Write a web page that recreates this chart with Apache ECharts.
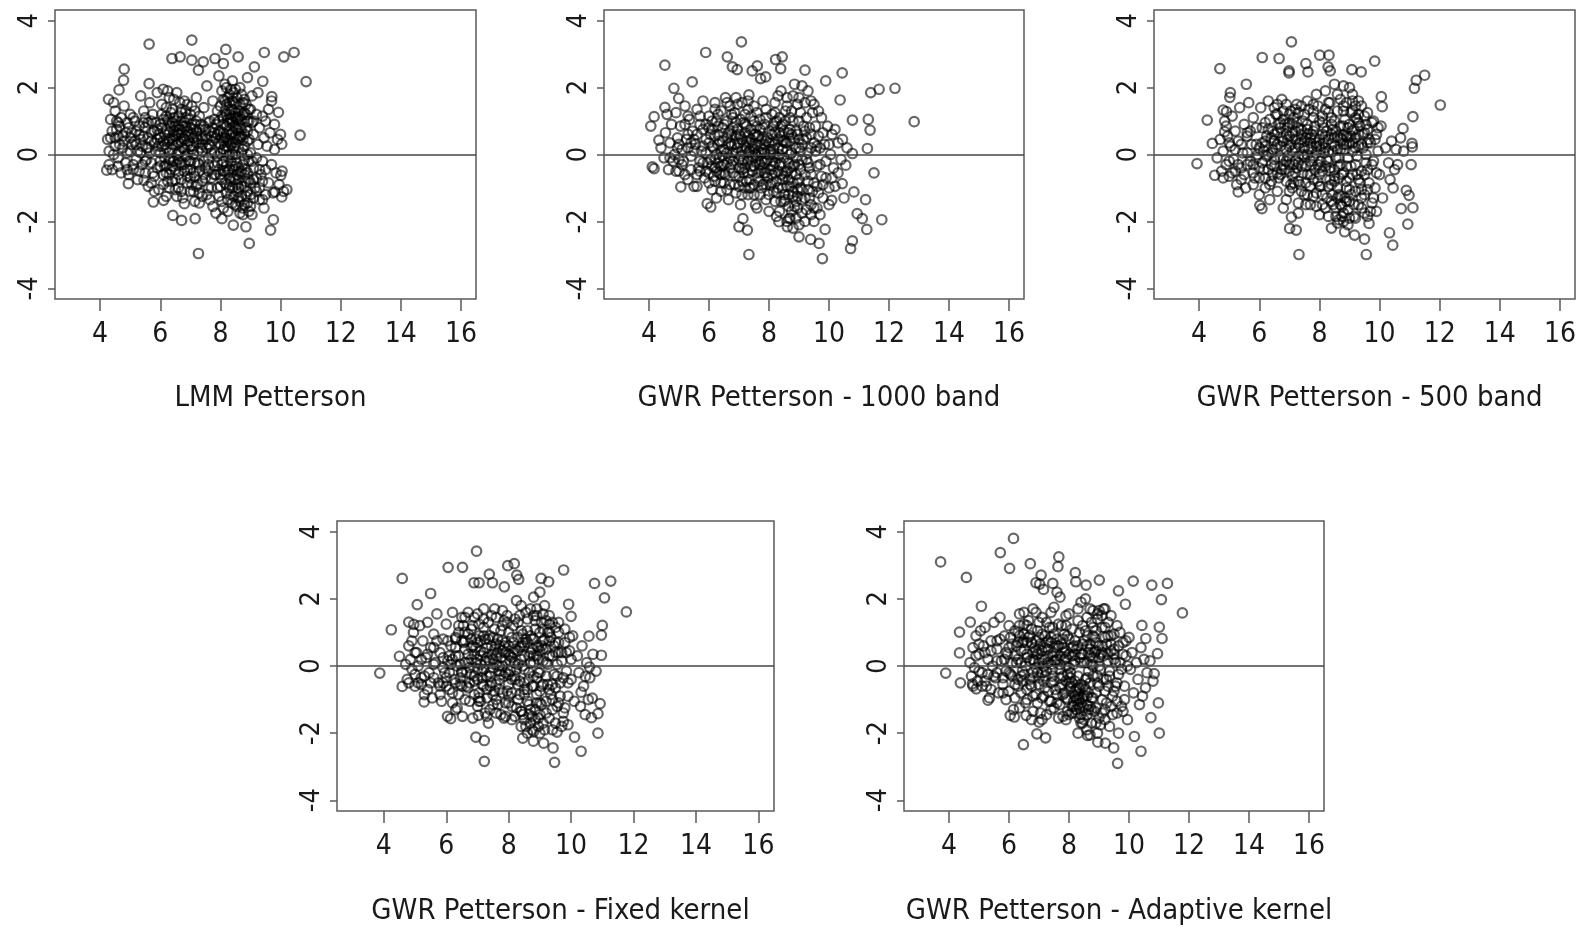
<!DOCTYPE html>
<html>
<head>
<meta charset="utf-8">
<title>Residual plots - Petterson</title>
<script src="https://cdn.jsdelivr.net/npm/echarts@6/dist/echarts.min.js"></script>
<style>
html, body { margin: 0; padding: 0; background: #fff; }
#chart { width: 1584px; height: 933px; }
</style>
</head>
<body>
<div id="chart"></div>
<script>
// titles and ticks
var panelTitles = ['LMM Petterson', 'GWR Petterson - 1000 band', 'GWR Petterson - 500 band',
	'GWR Petterson - Fixed kernel', 'GWR Petterson - Adaptive kernel'];
var xTicks = [4, 6, 8, 10, 12, 14, 16];
var yTicks = [-4, -2, 0, 2, 4];

// LMM Petterson [fitted, residual]
var lmmPoints = [
	[5.63,3.30],[7.05,3.42],[8.18,3.14],[8.59,2.92],[9.46,3.05],[10.11,2.92],[10.45,3.05],[10.85,2.18],[10.65,0.58],[10.04,0.31],
	[9.93,1.26],[9.71,1.73],[9.13,2.62],[9.41,2.19],[4.80,2.55],[4.78,2.22],[4.63,1.93],[4.28,1.65],[5.63,2.12],[6.39,2.87],
	[6.66,2.92],[7.05,2.82],[7.43,2.77],[7.82,2.87],[8.10,2.72],[7.27,2.52],[4.22,-0.47],[4.94,-0.87],[5.46,-0.77],[5.77,-1.42],
	[6.42,-1.82],[6.71,-1.97],[7.16,-1.92],[7.27,-2.96],[8.96,-2.66],[8.85,-2.16],[8.43,-2.11],[9.67,-2.26],[9.76,-1.95],[10.21,-1.05],
	[10.04,-1.27],[10.01,-0.62],[9.82,-1.12],[6.80,-1.47],[6.11,-1.37],[8.05,-1.92],
	[4.25,0.45],[4.3,0.1],[4.35,1.05],[4.3,-0.3],[4.4,0.7],[4.45,1.55],[4.5,0.25],[4.4,-0.45],[4.55,1.0],[4.6,-0.1],
	[4.6,0.55],[4.5,1.3],[4.65,0.85],[4.7,-0.55],[4.75,0.2],[4.8,1.45],[4.8,0.4],[4.85,-0.25],[4.9,0.95],[4.95,-0.6],
	[5.0,1.2],[5.0,0.1],[5.05,0.65],[5.1,-0.45],[5.15,1.0],[5.2,0.3],[5.2,-0.15],[5.25,-0.75],[5.3,0.85],[5.35,1.75],
	[5.35,0.05],[5.4,-0.3],[5.45,0.55],[5.45,1.3],[5.5,-0.55],[5.55,0.2],[5.6,0.95],[5.6,-0.95],[5.65,1.55],[5.7,0.4],
	[5.7,-0.25],[5.75,1.2],[5.8,0.7],[5.8,-0.65],[5.85,0.1],[5.9,1.85],[5.9,0.45],[5.95,-1.05],[6.0,0.9],[6.0,-0.35],
	[6.05,1.5],[6.05,0.25],[6.1,-0.6],[6.1,1.95],[6.15,0.6],[6.15,-0.1],[6.2,1.15],[6.2,-1.25],[6.25,0.4],[6.25,-0.8],
	[6.3,1.7],[6.3,0.05],[6.35,0.85],[6.35,-0.45],[6.4,0.5],[6.4,1.35],[6.45,-0.2],[6.45,0.7],[6.5,-1.05],[6.5,1.0],
	[6.55,0.3],[6.55,1.85],[6.6,-0.6],[6.6,0.6],[6.65,0.1],[6.7,1.25],[6.7,-0.3],[6.75,0.85],[6.75,-1.3],[6.8,0.45],
	[6.8,1.6],[6.85,-0.05],[6.9,0.7],[6.9,-0.85],[6.95,1.05],[7.0,0.25],[7.0,-0.45],[7.05,1.45],[7.05,0.6],[7.1,-1.1],
	[7.1,0.0],[7.15,0.9],[7.15,-0.65],[7.2,1.7],[7.2,0.35],[7.25,-0.25],[7.3,1.15],[7.3,-1.45],[7.35,0.55],[7.4,-0.8],
	[7.4,0.1],[7.45,1.4],[7.5,-0.4],[7.5,0.75],[7.55,-1.2],[7.55,2.05],[7.6,0.3],[7.6,-0.1],[7.65,1.0],[7.7,-0.7],
	[7.7,0.55],[7.75,-1.55],[7.75,1.6],[7.8,0.05],[7.8,-0.35],[7.85,0.9],[7.9,-1.0],[7.9,1.3],[7.95,0.35],[7.95,2.35],
	[8.0,-0.6],[8.0,0.7],[8.05,-1.4],[8.05,1.9],[8.1,0.15],[8.1,1.1],[8.1,-0.2],[8.15,2.1],[8.15,0.5],[8.2,-0.9],
	[8.2,1.5],[8.2,0.85],[8.25,-1.7],[8.25,0.25],[8.3,1.8],[8.3,-0.45],[8.3,1.2],[8.35,0.6],[8.35,-1.2],[8.4,2.2],
	[8.4,0.0],[8.4,0.95],[8.45,-0.7],[8.45,1.55],[8.5,0.35],[8.5,-1.5],[8.5,1.95],[8.55,0.75],[8.55,-0.25],[8.6,1.3],
	[8.6,-1.0],[8.65,0.5],[8.65,2.0],[8.7,-0.5],[8.7,1.05],[8.75,-1.8],[8.75,0.15],[8.8,1.65],[8.8,-0.15],[8.85,0.8],
	[8.85,-1.25],[8.9,2.3],[8.9,0.4],[8.95,-0.75],[8.95,1.35],[9.0,-1.55],[9.0,0.05],[9.05,0.95],[9.05,1.75],[9.1,-0.4],
	[9.1,0.6],[9.15,-1.0],[9.2,1.2],[9.2,-0.1],[9.25,1.85],[9.25,0.3],[9.3,-1.35],[9.3,0.8],[9.35,-0.6],[9.4,1.15],
	[9.4,-0.2],[9.45,0.5],[9.45,-1.6],[9.5,1.0],[9.5,-0.45],[9.55,0.25],[9.6,1.35],[9.6,-0.85],[9.65,0.65],[9.7,-0.3],
	[9.7,1.6],[9.75,-1.15],[9.8,0.15],[9.8,0.9],[9.85,-0.55],[9.9,0.45],[9.95,-0.9],[10.0,0.6],[10.05,-0.5],[10.1,-1.1],
	[6.2,0.75],[6.3,0.45],[6.4,0.95],[6.5,0.55],[6.6,0.85],[6.7,0.4],[6.8,0.95],[6.9,0.3],[7.0,0.8],[7.1,0.5],
	[6.25,1.9],[6.45,1.65],[6.65,1.55],[6.85,1.3],[7.3,0.75],[7.4,0.45],[7.6,0.95],[7.8,0.65],[7.9,-0.05],[8.0,0.3],
	[8.1,0.65],[8.2,0.1],[8.3,0.4],[8.4,1.35],[8.5,1.1],[8.6,0.9],[8.7,0.55],[8.8,1.25],[8.25,1.7],[8.45,1.85],
	[8.15,-0.5],[8.35,-0.8],[8.55,-1.1],[8.65,-1.4],[8.85,-0.45],[7.25,-0.9],[7.45,-0.6],[6.95,-0.2],[6.35,-0.15],[5.95,0.25],
	[5.8,0.35],[5.85,0.95],[5.9,-0.4],[5.95,0.6],[6.0,0.05],[6.05,1.2],[6.1,0.4],[6.15,-0.35],[6.2,0.2],[6.25,1.05],
	[6.3,-0.6],[6.3,0.65],[6.35,1.25],[6.4,0.15],[6.45,0.45],[6.5,-0.45],[6.5,0.85],[6.55,0.0],[6.6,1.15],[6.6,0.35],
	[6.65,-0.25],[6.7,0.65],[6.7,1.0],[6.75,0.2],[6.8,-0.5],[6.85,0.55],[6.85,1.1],[6.9,0.0],[6.95,0.4],[7.0,1.2],
	[7.0,-0.7],[7.05,0.15],[7.1,0.75],[7.15,-0.25],[7.2,0.55],[7.2,1.0],[7.25,0.1],[7.3,-0.5],[7.35,0.9],[7.4,0.3],
	[7.45,-0.2],[7.5,0.55],[7.55,0.2],[7.6,-0.5],[7.65,0.7],[7.7,0.05],[7.75,0.4],[7.8,1.05],[7.85,-0.6],[7.9,0.6],
	[7.95,1.0],[8.0,0.05],[8.0,1.45],[8.05,0.5],[8.05,-0.3],[8.1,1.65],[8.1,0.9],[8.15,0.25],[8.15,1.3],[8.2,-0.35],
	[8.2,0.6],[8.2,2.0],[8.25,1.05],[8.25,-0.05],[8.3,0.75],[8.3,1.55],[8.3,0.0],[8.35,1.95],[8.35,0.3],[8.35,1.05],
	[8.4,-0.35],[8.4,0.65],[8.4,1.6],[8.45,0.2],[8.45,1.15],[8.45,0.5],[8.5,1.5],[8.5,0.0],[8.5,0.8],[8.55,-0.6],
	[8.55,1.7],[8.55,0.45],[8.6,0.2],[8.6,1.1],[8.6,-0.4],[8.65,0.8],[8.65,1.5],[8.7,0.05],[8.7,1.8],[8.75,0.45],
	[8.75,1.2],[8.8,-0.6],[8.8,0.6],[8.85,1.5],[8.9,0.0],[8.9,1.0],[8.95,0.45],[9.0,1.35],[9.05,-0.2],[9.1,1.0],
	[8.3,-1.0],[8.4,-1.45],[8.5,-0.75],[8.6,-1.3],[8.7,-0.95],[8.8,-1.5],[8.9,-1.1],[9.0,-0.85],[9.1,-1.3],[9.2,-0.7],
	[9.3,-1.0],[9.4,-1.35],[8.95,-1.7],[8.75,-1.6],[8.25,-1.35],[7.95,-1.25],[7.6,-1.0],[7.3,-1.15],[7.0,-1.1],[6.6,-1.0],
	[4.35,0.5],[4.45,0.0],[4.55,0.75],[4.65,0.3],[4.7,1.1],[4.85,0.65],[4.9,0.05],[5.0,0.5],[5.1,1.1],[5.15,0.4],
	[5.25,0.1],[5.3,0.6],[5.4,0.25],[5.5,0.8],[5.55,-0.15],[5.6,0.5],[5.65,0.05],[5.7,1.0],[5.75,-0.55],[5.5,1.1],
	[6.05,0.8],[6.15,0.3],[6.2,1.4],[6.3,0.95],[6.4,0.3],[6.45,1.1],[6.55,0.65],[6.6,0.05],[6.65,0.75],[6.7,1.35],
	[6.75,0.5],[6.8,0.15],[6.85,0.85],[6.9,1.5],[6.95,0.6],[7.05,0.9],[7.1,0.25],[7.15,1.3],[7.2,0.7],[7.25,0.45],
	[7.35,0.2],[7.45,0.85],[7.55,0.45],[7.65,0.25],[7.75,0.8],[7.85,0.5],[7.95,0.7],[8.05,1.15],[8.1,0.4],[8.15,1.6],
	[8.2,1.2],[8.25,0.45],[8.3,0.95],[8.35,1.35],[8.4,0.35],[8.45,0.85],[8.5,1.25],[8.55,1.05],[8.6,0.55],[8.65,1.15],
	[8.7,0.75],[8.75,1.55],[8.8,0.25],[8.85,1.2],[8.9,0.7],[8.95,1.0],[8.25,-0.5],[8.35,-0.2],[8.45,-0.45],[8.55,-0.9],
	[8.65,-0.55],[8.75,-0.3],[8.85,-0.8],[8.95,-0.2],[8.15,-0.85],[8.05,-0.75],[7.95,-0.45],[8.45,-1.25],[8.65,-1.75],[8.9,-1.45],
	[5.9,0.75],[6.0,0.5],[6.1,1.05],[6.2,-0.3],[6.3,-0.15],[6.4,-0.8],[6.55,-0.3],[6.7,-0.75],[6.9,-0.45],[7.05,-0.9],
	[4.5,0.5],[4.6,0.95],[4.75,0.55],[4.95,0.8],[5.05,0.3],[5.2,0.7],[5.35,0.45],[5.45,0.95],[5.6,0.2],[5.7,0.65],
	[6.0,-0.2],[6.1,-0.9],[6.2,-0.55],[6.3,-1.0],[6.4,-0.35],[6.5,-0.75],[6.6,-0.15],[6.7,-1.1],[6.8,-0.3],[6.9,-0.65],
	[7.0,-0.2],[7.1,-0.55],[7.2,-0.95],[7.3,-0.3],[7.4,-1.25],[7.5,-0.7],[7.6,-0.3],[7.7,-1.0],[7.8,-0.6],[7.9,-0.25],
	[8.0,-0.95],[8.1,-0.5],[8.2,-1.15],[8.3,-0.7],[8.4,-1.0],[8.5,-0.35],[8.6,-0.75],[8.7,-1.25],[8.8,-0.95],[8.9,-0.55],
	[9.0,-1.2],[9.1,-0.75],[9.2,-1.1],[9.3,-0.45],[9.4,-0.8],[9.5,-1.2],[7.15,-1.4],[7.65,-1.35],[8.1,-1.6],[8.55,-1.55],
	[5.1,-0.3],[5.3,-0.5],[5.5,-0.2],[5.7,-0.85],[4.6,-0.35],[4.9,-0.45],[5.8,-1.1],[6.55,-1.25],[7.85,-1.75],[9.05,-1.8]
];

// GWR Petterson - 1000 band
var band1000Points = [
	[5.89,3.05],[7.08,3.37],[6.61,2.92],[6.78,2.62],[6.94,2.54],[7.61,2.65],[7.44,2.50],[8.22,2.84],[8.44,2.92],[8.39,2.57],
	[7.89,2.32],[7.72,2.27],[9.20,2.52],[9.89,2.20],[10.44,2.44],[10.37,1.63],[10.78,1.03],[11.31,1.05],[11.37,0.73],[11.39,1.85],
	[11.67,1.95],[12.20,1.98],[12.84,0.98],[11.28,0.18],[11.50,-0.55],[10.78,0.03],[10.56,-0.32],[10.44,-0.87],[10.83,-1.12],[11.22,-1.35],
	[10.94,-1.77],[11.11,-1.92],[11.26,-2.24],[11.76,-1.95],[10.78,-2.58],[10.72,-2.81],[9.78,-3.11],[9.67,-2.66],[9.39,-2.54],[9.00,-2.46],
	[9.87,-2.24],[7.33,-2.99],[7.28,-2.26],[7.00,-2.16],[7.13,-1.92],[5.94,-1.47],[6.06,-1.57],[5.06,-0.97],[4.17,-0.42],[4.11,-0.37],
	[4.06,0.85],[4.17,1.13],[4.33,0.43],[4.53,2.67],[4.83,1.98],[5.44,2.17],[4.99,1.68],[4.53,1.41],[7.33,1.78],[8.67,-1.92],
	[8.61,-2.16],[8.33,-2.01],[10.09,-1.37],
	[4.4,0.2],[4.5,-0.1],[4.55,0.65],[4.6,1.2],[4.65,-0.45],[4.7,0.35],[4.75,0.9],[4.8,-0.2],[4.85,0.0],[4.9,1.25],
	[4.95,0.5],[5.0,-0.5],[5.05,0.85],[5.1,0.15],[5.15,-0.2],[5.2,1.45],[5.25,0.45],[5.3,-0.75],[5.35,1.05],[5.4,-0.05],
	[5.45,0.7],[5.5,-0.95],[5.55,0.3],[5.6,1.35],[5.65,-0.4],[5.7,0.9],[5.75,0.1],[5.8,1.6],[5.85,-0.7],[5.9,0.45],
	[5.95,-0.25],[6.0,1.15],[6.05,0.6],[6.1,-1.05],[6.15,0.2],[6.2,1.55],[6.25,-0.5],[6.3,0.85],[6.35,-0.1],[6.4,1.3],
	[6.45,0.4],[6.5,-0.85],[6.55,1.7],[6.6,0.05],[6.65,-1.35],[6.7,0.7],[6.75,-0.3],[6.8,1.1],[6.85,0.3],[6.9,-0.65],
	[6.95,1.5],[7.0,-0.15],[7.05,0.55],[7.1,-1.2],[7.15,0.95],[7.2,-0.4],[7.25,0.2],[7.3,1.35],[7.35,-0.75],[7.4,0.45],
	[7.45,-0.05],[7.5,1.0],[7.55,-1.5],[7.6,0.3],[7.65,-0.55],[7.7,0.75],[7.75,-0.2],[7.8,1.6],[7.85,0.05],[7.9,-0.9],
	[7.95,0.5],[8.0,-1.7],[8.05,0.15],[8.1,1.2],[8.15,-0.35],[8.2,0.65],[8.25,-1.15],[8.3,1.75],[8.35,0.0],[8.4,-0.6],
	[8.45,0.9],[8.5,-1.4],[8.55,0.35],[8.6,1.45],[8.65,-0.25],[8.7,-1.9],[8.75,0.6],[8.8,-0.85],[8.85,2.1],[8.9,0.2],
	[8.95,-1.25],[9.0,1.0],[9.05,-0.45],[9.1,-1.75],[9.15,0.45],[9.2,1.55],[9.25,-0.15],[9.3,-1.05],[9.35,0.8],[9.4,-0.6],
	[9.45,1.25],[9.5,-1.6],[9.55,0.1],[9.6,-0.95],[9.65,0.55],[9.7,-0.3],[9.75,1.1],[9.8,-1.3],[9.85,0.3],[9.9,-0.7],
	[9.95,0.85],[10.0,-1.5],[10.05,0.0],[10.1,0.6],[10.15,-0.4],[10.2,-0.95],[10.3,0.35],[10.4,-0.15],[10.5,-1.3],[10.6,0.2],
	[6.6,0.5],[6.8,0.8],[7.0,0.35],[7.1,0.1],[7.2,0.65],[7.3,-0.2],[7.4,-0.35],[7.5,0.15],[7.6,-0.05],[7.7,0.25],
	[7.8,-0.4],[7.9,0.4],[8.0,0.0],[8.1,-0.2],[8.2,0.3],[8.3,-0.5],[8.4,0.55],[8.5,-0.1],[8.6,0.1],[8.7,0.4],
	[8.8,-0.35],[8.9,-0.6],[9.0,0.2],[8.35,1.1],[8.55,1.0],[8.75,1.3],[8.95,1.5],[8.45,-1.0],[8.65,-1.2],[8.85,-1.55],
	[9.05,-1.0],[6.3,0.3],[6.5,-0.3],[6.2,-0.15],[5.9,0.05],[6.0,-0.55],[6.7,1.45],[7.1,1.55],[7.6,1.25],[7.4,-1.0],
	[8.9,-1.9],[9.2,-2.0],[8.6,-2.0],[9.4,-1.8],[9.7,-1.8],[9.3,1.9],[9.1,2.05],[8.4,1.9],[8.8,1.75],[9.5,1.5],
	[5.2,0.9],[5.4,0.35],[5.6,-0.6],[5.8,0.25],[5.0,0.3],[4.9,-0.5],[5.3,1.15],[5.7,1.15],[6.1,0.75],[6.4,-0.6],
	[6.9,0.55],[7.25,0.85],[7.55,0.6],[7.85,0.9],[8.15,0.85],[8.25,-0.8],[8.55,-0.55],[8.95,0.6],[9.25,0.5],[9.6,0.25],
	[10.0,0.3],[10.2,0.75],[10.3,-0.55],[10.45,0.45],[9.8,0.65],[9.9,-0.2],[10.1,-0.7],[7.0,-0.95],[7.7,-1.2],[7.95,-0.7],
	[5.6,0.6],[5.7,-0.2],[5.8,0.75],[5.9,-0.5],[6.0,0.35],[6.05,-0.15],[6.1,1.0],[6.15,-0.65],[6.2,0.55],[6.25,0.0],
	[6.3,1.2],[6.35,0.4],[6.4,-0.35],[6.45,0.8],[6.5,0.15],[6.55,-0.6],[6.6,1.0],[6.65,0.3],[6.7,-0.1],[6.75,0.6],
	[6.8,-0.55],[6.85,1.25],[6.9,0.05],[6.95,0.75],[7.0,-0.4],[7.05,1.05],[7.1,0.45],[7.15,-0.15],[7.2,0.25],[7.25,-0.8],
	[7.3,0.55],[7.35,0.1],[7.4,1.15],[7.45,-0.5],[7.5,0.6],[7.55,-0.2],[7.6,0.85],[7.65,0.1],[7.7,-0.8],[7.75,0.45],
	[7.8,0.15],[7.85,-0.55],[7.9,1.1],[7.95,-0.15],[8.0,0.7],[8.05,-0.9],[8.1,0.35],[8.15,0.0],[8.2,-0.55],[8.25,1.0],
	[8.3,0.2],[8.35,-0.3],[8.4,0.85],[8.45,-0.75],[8.5,0.4],[8.55,1.3],[8.6,-0.5],[8.65,0.65],[8.7,-0.95],[8.75,0.05],
	[8.8,1.0],[8.85,-0.3],[8.9,0.7],[8.95,-0.85],[9.0,0.45],[9.05,1.25],[9.1,-0.15],[9.15,0.85],[9.2,-0.6],[9.25,1.1],
	[9.3,0.05],[9.35,-0.4],[9.4,0.6],[9.45,-1.1],[9.5,0.35],[9.55,0.85],[9.6,-0.35],[9.65,1.3],[9.7,0.2],[9.75,-0.65],
	[8.2,-1.4],[8.35,-1.7],[8.5,-1.2],[8.65,-1.55],[8.8,-1.25],[8.95,-1.6],[9.1,-1.35],[9.25,-1.65],[9.0,-2.1],[8.8,-2.2],
	[7.3,-1.2],[7.5,-0.9],[7.9,-1.35],[7.1,-0.8],[6.7,-0.9],[6.4,-1.1],[6.9,1.7],[6.6,1.55],[6.2,1.35],[7.3,1.6],
	[7.5,1.45],[7.9,1.35],[8.2,1.55],[8.6,1.7],[9.0,1.7],[9.4,1.6],[5.5,0.1],[5.3,0.6],[5.1,-0.3],[4.95,0.2],
	[6.45,-0.05],[6.75,0.25],[7.05,-0.05],[7.35,0.35],[7.65,0.55],[7.85,0.3],[8.1,0.6],[8.3,-0.1],[8.45,0.15],[8.7,0.75],
	[6.0,0.8],[6.1,0.25],[6.2,-0.4],[6.3,0.6],[6.4,0.1],[6.5,0.9],[6.6,-0.25],[6.7,0.35],[6.8,0.05],[6.9,0.95],
	[7.0,0.6],[7.1,-0.45],[7.2,0.9],[7.3,0.05],[7.4,0.75],[7.5,-0.35],[7.6,0.55],[7.7,-0.5],[7.8,0.8],[7.9,-0.2],
	[8.0,0.35],[8.1,-0.6],[8.2,0.95],[8.3,0.45],[8.4,-0.25],[8.5,0.7],[8.6,0.35],[8.7,0.0],[8.8,0.5],[8.9,-0.1],
	[9.0,-0.3],[9.1,0.3],[9.2,0.7],[9.3,-0.25],[9.4,0.2],[6.65,0.65],[6.95,0.2],[7.25,0.4],[7.55,0.0],[7.85,-0.25],
	[8.15,0.15],[8.45,0.4],[8.75,-0.55],[9.05,0.1],[7.15,-0.55],[7.45,0.25],[7.75,0.05],[8.05,-0.45],[8.35,0.65],[8.65,-0.75],
	[6.35,-0.55],[6.85,-0.9],[7.35,-1.0],[7.75,-1.0],[8.15,-1.1],[8.55,-1.35],[8.95,-1.05],[9.35,-1.3],[9.65,-1.15],[10.0,-1.0],
	[5.3,0.2],[5.5,0.45],[5.7,-0.5],[5.9,0.9],[6.25,1.0],[6.75,1.2],[7.2,1.2],[7.7,1.05],[8.2,1.25],[8.7,1.1],
	[6.0,-0.85],[6.1,-0.35],[6.2,-0.8],[6.3,-0.25],[6.4,-0.85],[6.5,-0.55],[6.6,-1.05],[6.7,-0.4],[6.8,-0.2],[6.9,-1.15],
	[7.0,-0.65],[7.1,-0.25],[7.2,-1.0],[7.3,-0.55],[7.4,-0.15],[7.5,-1.2],[7.6,-0.7],[7.7,-0.3],[7.8,-0.9],[7.9,-0.55],
	[8.0,-1.2],[8.1,-0.85],[8.2,-0.25],[8.3,-1.0],[8.4,-1.4],[8.5,-0.65],[8.6,-0.95],[8.7,-0.4],[8.8,-1.1],[8.9,-1.4],
	[9.0,-0.75],[9.1,-1.05],[9.2,-1.3],[9.3,-0.8],[9.4,-1.5],[9.5,-0.85],[9.6,-1.6],[9.8,-0.9],[7.6,-1.6],[8.25,-1.85],
	[5.2,-0.6],[5.4,-0.45],[5.6,-0.95],[5.8,-0.25],[4.7,-0.1],[5.0,-0.15],[6.25,-1.3],[7.05,-1.5],[8.75,-1.7],[9.5,-2.0]
];

// GWR Petterson - 500 band
var band500Points = [
	[3.93,-0.27],[4.52,-0.62],[4.27,1.03],[4.44,0.33],[4.69,2.57],[5.04,1.85],[5.57,2.10],[6.10,2.90],[6.66,2.87],[6.99,2.50],
	[6.99,2.44],[7.07,3.37],[7.55,2.72],[7.62,2.47],[8.01,2.97],[8.32,2.97],[8.29,2.62],[8.36,2.50],[9.08,2.54],[9.39,2.47],
	[9.84,2.79],[10.06,1.73],[10.09,1.43],[11.11,1.13],[11.16,1.98],[11.22,2.22],[11.50,2.37],[12.02,1.48],[11.08,0.33],[11.09,0.23],
	[11.05,-0.30],[10.78,0.78],[10.89,-1.07],[10.98,-1.22],[11.11,-1.59],[10.72,-1.62],[10.94,-2.08],[10.33,-2.34],[10.44,-2.71],[9.56,-2.99],
	[9.50,-2.53],[9.17,-2.41],[8.84,-2.31],[9.65,-2.06],[7.32,-2.99],[7.23,-2.26],[7.01,-2.21],[7.07,-1.87],[6.09,-1.62],[6.02,-1.52],
	[5.30,-1.12],[5.02,1.71],[4.80,1.33],[4.91,1.28],[4.85,0.68],
	[4.6,-0.1],[4.7,0.45],[4.75,-0.5],[4.8,0.1],[4.85,1.0],[4.9,-0.3],[4.95,0.55],[5.0,-0.65],[5.05,0.25],[5.1,1.15],
	[5.15,-0.15],[5.2,0.7],[5.25,-0.9],[5.3,0.4],[5.35,1.4],[5.4,-0.4],[5.45,0.05],[5.5,0.9],[5.55,-1.0],[5.6,0.55],
	[5.65,1.55],[5.7,-0.2],[5.75,0.3],[5.8,1.1],[5.85,-0.7],[5.9,0.8],[5.95,0.0],[6.0,-1.2],[6.05,1.4],[6.1,0.35],
	[6.15,-0.45],[6.2,0.95],[6.25,-0.05],[6.3,1.6],[6.35,-0.9],[6.4,0.5],[6.45,0.15],[6.5,-0.35],[6.55,1.2],[6.6,0.65],
	[6.65,-0.7],[6.7,0.25],[6.75,1.65],[6.8,-0.15],[6.85,0.9],[6.9,-1.35],[6.95,0.45],[7.0,-0.5],[7.05,1.3],[7.1,0.1],
	[7.15,-0.85],[7.2,0.7],[7.25,1.5],[7.3,-0.25],[7.35,0.35],[7.4,-1.1],[7.45,1.0],[7.5,-0.05],[7.55,-1.5],[7.6,0.6],
	[7.65,1.35],[7.7,-0.6],[7.75,0.2],[7.8,-1.25],[7.85,0.85],[7.9,1.8],[7.95,-0.3],[8.0,0.45],[8.05,-0.95],[8.1,1.15],
	[8.15,0.05],[8.2,-1.6],[8.25,0.7],[8.3,1.55],[8.35,-0.4],[8.4,0.3],[8.45,-1.2],[8.5,1.0],[8.55,-0.1],[8.6,1.8],
	[8.65,-0.7],[8.7,0.5],[8.75,-1.85],[8.8,1.3],[8.85,0.15],[8.9,-1.0],[8.95,0.8],[9.0,2.0],[9.05,-0.35],[9.1,0.35],
	[9.15,-1.5],[9.2,1.1],[9.25,-0.05],[9.3,0.6],[9.35,-0.85],[9.4,1.45],[9.45,0.2],[9.5,-1.2],[9.55,0.9],[9.6,-0.45],
	[9.65,0.45],[9.7,-1.7],[9.75,0.95],[9.8,-0.2],[9.85,-1.0],[9.9,0.6],[9.95,0.1],[10.0,-0.6],[10.05,0.85],[10.1,-1.3],
	[10.2,0.2],[10.3,-0.25],[10.35,-0.75],[10.45,-1.0],[10.55,0.15],[10.6,-0.3],[10.7,0.5],[10.8,0.1],[10.5,-0.45],[10.4,0.4],
	[6.5,0.4],[6.7,0.8],[6.9,0.15],[7.0,0.55],[7.1,0.9],[7.2,-0.2],[7.3,0.3],[7.4,0.75],[7.5,0.4],[7.6,0.0],
	[7.7,0.5],[7.8,-0.1],[7.9,0.25],[8.0,-0.4],[8.1,0.6],[8.2,0.2],[8.3,-0.2],[8.4,0.9],[8.5,0.5],[8.6,0.15],
	[8.7,-0.3],[8.8,0.6],[8.9,0.3],[9.0,0.9],[9.1,1.3],[9.2,0.5],[9.3,1.6],[8.55,-1.6],[8.65,-1.95],[8.7,-1.5],
	[8.8,-1.75],[8.6,-1.3],[8.4,-0.9],[8.9,-1.4],[9.0,-1.9],[9.2,-1.9],[9.4,-1.6],[9.6,-1.85],[8.3,-1.85],[8.0,-1.8],
	[6.8,1.3],[7.3,1.25],[7.8,1.5],[8.2,1.9],[8.5,2.1],[8.8,2.05],[9.1,1.8],[6.2,0.4],[6.0,0.2],[5.8,-0.3],
	[5.9,0.3],[6.0,-0.4],[6.1,0.8],[6.15,0.1],[6.2,-0.7],[6.25,0.55],[6.3,0.0],[6.35,1.05],[6.4,-0.3],[6.45,0.7],
	[6.5,1.4],[6.55,0.2],[6.6,-0.55],[6.65,0.9],[6.7,-0.1],[6.75,0.5],[6.8,1.05],[6.85,-0.45],[6.9,0.6],[6.95,-0.05],
	[7.0,0.95],[7.05,0.3],[7.1,-0.65],[7.15,1.1],[7.2,0.2],[7.25,-0.4],[7.3,0.8],[7.35,-0.9],[7.4,0.45],[7.45,0.0],
	[7.5,1.2],[7.55,-0.35],[7.6,0.75],[7.65,0.15],[7.7,-0.95],[7.75,0.6],[7.8,1.1],[7.85,-0.45],[7.9,0.35],[7.95,-0.8],
	[8.0,1.0],[8.05,0.15],[8.1,-0.5],[8.15,0.8],[8.2,1.35],[8.25,-0.15],[8.3,0.45],[8.35,-0.75],[8.4,1.1],[8.45,0.1],
	[8.5,-0.45],[8.55,0.7],[8.6,1.3],[8.65,-0.1],[8.7,0.85],[8.75,-0.6],[8.8,0.3],[8.85,1.05],[8.9,-0.35],[8.95,0.5],
	[9.0,-0.7],[9.05,1.25],[9.1,0.1],[9.15,0.75],[9.2,-0.3],[9.25,1.05],[9.3,0.25],[9.35,0.85],[9.4,-0.5],[9.45,0.6],
	[9.5,1.15],[9.55,0.0],[9.6,0.75],[9.65,-0.85],[9.7,0.35],[9.75,-0.3],[9.8,1.0],[9.85,0.45],[9.9,-0.55],[9.95,0.8],
	[8.45,-1.5],[8.55,-1.85],[8.65,-1.2],[8.75,-1.55],[8.6,-2.05],[8.8,-2.0],[8.85,-1.3],[8.95,-1.65],[9.05,-1.2],[9.15,-1.85],
	[9.3,-1.5],[9.5,-1.75],[9.75,-1.45],[9.9,-1.7],[8.25,-1.3],[8.1,-1.5],[7.9,-1.55],[7.6,-1.2],[7.3,-1.45],[7.0,-1.1],
	[5.4,0.3],[5.5,-0.6],[5.6,0.05],[5.7,0.7],[5.3,-0.3],[5.2,0.15],[5.1,-0.55],[5.0,0.35],[4.9,0.85],[5.8,-0.9],
	[8.7,1.65],[8.9,1.55],[9.1,1.6],[8.35,1.55],[7.95,1.45],[7.6,1.6],[7.2,1.35],[6.9,1.5],[6.6,1.2],[9.3,1.2],
	[6.2,0.25],[6.3,0.75],[6.4,0.05],[6.5,0.6],[6.6,0.3],[6.7,0.95],[6.8,0.4],[6.9,-0.2],[7.0,0.25],[7.1,0.65],
	[7.2,0.45],[7.3,-0.05],[7.4,0.6],[7.5,0.2],[7.6,0.9],[7.7,0.35],[7.8,0.7],[7.9,0.05],[8.0,0.25],[8.1,0.95],
	[8.2,0.55],[8.3,0.1],[8.4,0.6],[8.5,0.25],[8.6,0.55],[8.7,0.15],[8.8,0.85],[8.9,0.55],[9.0,0.35],[9.1,0.7],
	[9.2,0.2],[9.3,0.95],[9.4,0.3],[9.5,0.65],[9.6,0.35],[6.95,0.8],[7.25,0.95],[7.55,0.5],[7.85,0.5],[8.15,0.35],
	[8.45,0.75],[8.75,0.45],[9.05,0.55],[7.15,-0.3],[7.45,-0.55],[7.75,-0.3],[8.05,-0.2],[8.35,-0.5],[8.65,-0.35],[8.95,-0.1],
	[9.25,-0.6],[9.55,-0.25],[7.05,-0.9],[7.55,-0.85],[8.0,-0.95],[8.5,-0.8],[9.0,-1.05],[9.4,-1.05],[6.45,-0.6],[6.75,-0.45],
	[6.6,1.5],[7.0,1.2],[7.4,1.45],[7.8,1.3],[8.3,1.25],[8.8,1.45],[9.2,1.45],[9.6,1.25],[5.6,0.65],[5.9,-0.1],
	[6.0,-0.7],[6.1,-0.25],[6.2,-1.0],[6.3,-0.45],[6.4,-0.8],[6.5,-0.15],[6.6,-1.1],[6.7,-0.6],[6.8,-0.3],[6.9,-0.8],
	[7.0,-0.3],[7.1,-1.0],[7.2,-0.55],[7.3,-0.8],[7.4,-0.35],[7.5,-1.2],[7.6,-0.6],[7.7,-0.2],[7.8,-0.75],[7.9,-1.15],
	[8.0,-0.6],[8.1,-1.2],[8.2,-0.35],[8.3,-0.95],[8.4,-1.4],[8.5,-0.65],[8.6,-1.0],[8.7,-1.25],[8.8,-0.55],[8.9,-0.8],
	[9.0,-1.4],[9.1,-0.6],[9.2,-1.1],[9.3,-0.75],[9.4,-1.3],[9.5,-0.6],[9.6,-1.05],[9.8,-1.3],[7.3,-1.75],[7.7,-1.5],
	[5.2,-0.5],[5.4,-0.75],[5.6,-0.3],[5.8,-0.55],[4.8,-0.7],[5.0,-0.2],[6.35,-1.35],[6.8,-1.6],[8.4,-2.2],[8.95,-2.1]
];

// GWR Petterson - Fixed kernel
var fixedPoints = [
	[3.87,-0.21],[4.24,1.08],[4.50,0.29],[4.59,-0.61],[4.59,2.61],[5.07,1.83],[5.50,2.16],[6.06,2.94],[6.52,2.94],[6.97,3.42],
	[6.89,2.48],[7.05,2.48],[7.38,2.74],[7.48,2.48],[7.97,2.99],[8.18,3.05],[8.26,2.71],[8.32,2.58],[7.86,2.36],[9.04,2.61],
	[9.28,2.51],[9.76,2.86],[9.92,1.84],[10.0,1.48],[10.75,2.46],[11.27,2.53],[11.07,2.03],[11.77,1.61],[11.0,1.21],[10.97,0.92],
	[10.57,0.89],[10.97,0.32],[10.59,-0.03],[10.46,-0.31],[10.32,-0.78],[10.68,-0.96],[10.93,-1.12],[10.86,-1.42],[10.65,-1.54],[10.86,-2.0],
	[10.11,-2.12],[10.32,-2.54],[9.47,-2.87],[9.42,-2.44],[9.12,-2.30],[8.79,-2.24],[9.55,-1.97],[7.22,-2.84],[7.22,-2.22],[6.95,-2.12],
	[7.03,-1.47],[6.04,-1.50],[6.14,-1.57],[6.52,-1.50],[5.29,-1.07],[4.80,1.31],[4.96,1.24],
	[4.7,0.05],[4.75,-0.4],[4.8,0.6],[4.85,0.2],[4.9,-0.1],[4.95,1.0],[5.0,-0.6],[5.05,0.4],[5.1,0.0],[5.15,1.2],
	[5.2,-0.35],[5.25,0.75],[5.3,-0.85],[5.35,0.25],[5.4,1.3],[5.45,-0.2],[5.5,0.55],[5.55,-0.95],[5.6,0.95],[5.65,0.1],
	[5.7,1.55],[5.75,-0.5],[5.8,0.4],[5.85,-1.05],[5.9,0.8],[5.95,-0.2],[6.0,1.25],[6.05,0.15],[6.1,-0.7],[6.15,0.6],
	[6.2,1.6],[6.25,-0.4],[6.3,0.3],[6.35,-1.25],[6.4,1.0],[6.45,0.05],[6.5,-0.6],[6.55,0.7],[6.6,1.45],[6.65,-0.2],
	[6.7,0.35],[6.75,-1.05],[6.8,1.1],[6.85,0.6],[6.9,-0.45],[6.95,0.1],[7.0,1.55],[7.05,-0.8],[7.1,0.45],[7.15,-0.15],
	[7.2,0.9],[7.25,-1.4],[7.3,0.25],[7.35,1.3],[7.4,-0.6],[7.45,0.6],[7.5,-0.05],[7.55,1.7],[7.6,-1.0],[7.65,0.4],
	[7.7,-0.4],[7.75,1.05],[7.8,0.0],[7.85,-1.55],[7.9,0.7],[7.95,1.5],[8.0,-0.25],[8.05,0.3],[8.1,-0.8],[8.15,1.2],
	[8.2,0.1],[8.25,1.95],[8.3,-0.55],[8.35,0.55],[8.4,-1.35],[8.45,0.95],[8.5,-0.1],[8.55,1.6],[8.6,-0.7],[8.65,0.3],
	[8.7,-1.7],[8.75,0.8],[8.8,-0.3],[8.85,1.35],[8.9,-1.1],[8.95,0.2],[9.0,1.0],[9.05,-0.6],[9.1,0.5],[9.15,1.8],
	[9.2,-1.4],[9.25,0.05],[9.3,0.75],[9.35,-0.85],[9.4,1.3],[9.45,-0.25],[9.5,0.4],[9.55,-1.2],[9.6,1.0],[9.65,-0.5],
	[9.7,0.15],[9.75,-1.65],[9.8,0.7],[9.85,-0.15],[9.9,-0.9],[9.95,0.45],[10.0,-0.4],[10.05,0.9],[10.1,-1.05],[10.2,0.3],
	[10.25,-0.2],[10.35,0.6],[10.4,-0.6],[10.5,0.1],[10.6,-0.35],[10.7,0.35],[10.8,-0.15],[10.3,-1.2],[10.45,-1.45],[10.55,-1.0],
	[6.6,0.5],[6.8,0.2],[7.0,0.7],[7.1,0.05],[7.2,0.4],[7.3,-0.3],[7.4,0.15],[7.5,0.85],[7.6,0.3],[7.7,0.6],
	[7.8,0.45],[7.9,-0.2],[8.0,0.6],[8.1,0.25],[8.2,-0.4],[8.3,0.85],[8.4,0.2],[8.5,0.6],[8.6,1.05],[8.7,0.4],
	[8.8,0.1],[8.9,0.6],[9.0,-0.2],[9.1,1.1],[9.2,0.5],[9.3,1.5],[8.5,-1.6],[8.65,-1.45],[8.75,-1.9],[8.85,-1.6],
	[8.95,-1.8],[9.1,-1.7],[8.4,-1.8],[8.2,-1.5],[9.4,-1.9],[9.7,-1.8],[8.0,-1.1],[7.6,-1.4],[7.4,-1.3],[7.0,-1.2],
	[6.7,1.6],[7.2,1.4],[7.8,1.65],[8.4,1.8],[8.8,2.05],[9.0,2.2],[8.9,1.7],[6.3,0.8],[6.1,0.3],[5.9,-0.5],
	[5.9,0.25],[6.0,-0.35],[6.05,0.75],[6.15,0.05],[6.2,-0.8],[6.3,0.55],[6.35,0.0],[6.4,1.2],[6.45,-0.35],[6.5,0.75],
	[6.55,1.2],[6.6,0.1],[6.65,-0.6],[6.7,0.95],[6.75,-0.05],[6.8,0.55],[6.85,1.2],[6.9,-0.3],[6.95,0.8],[7.0,-0.1],
	[7.05,0.9],[7.1,0.3],[7.15,-0.55],[7.2,1.15],[7.25,0.15],[7.3,-0.7],[7.35,0.8],[7.4,-0.2],[7.45,0.35],[7.5,-0.85],
	[7.55,1.1],[7.6,0.05],[7.65,0.8],[7.7,-0.7],[7.75,0.25],[7.8,1.2],[7.85,-0.3],[7.9,0.4],[7.95,-0.75],[8.0,1.0],
	[8.05,0.15],[8.1,-0.4],[8.15,0.7],[8.2,1.4],[8.25,-0.1],[8.3,0.45],[8.35,-0.85],[8.4,1.05],[8.45,0.0],[8.5,-0.5],
	[8.55,0.8],[8.6,1.4],[8.65,-0.2],[8.7,0.9],[8.75,-0.6],[8.8,0.3],[8.85,1.1],[8.9,-0.35],[8.95,0.55],[9.0,-0.75],
	[9.05,1.3],[9.1,0.15],[9.15,0.8],[9.2,-0.3],[9.25,1.0],[9.3,0.3],[9.35,0.85],[9.4,-0.55],[9.45,0.6],[9.5,1.15],
	[9.55,0.05],[9.6,0.7],[9.65,-0.9],[9.7,0.4],[9.75,-0.35],[9.8,1.1],[9.85,0.4],[9.9,-0.5],[9.95,0.85],[10.0,0.2],
	[8.45,-1.45],[8.55,-1.8],[8.65,-1.15],[8.75,-1.5],[8.6,-2.0],[8.8,-1.95],[8.85,-1.3],[8.95,-1.55],[9.05,-1.15],[9.15,-1.9],
	[9.3,-1.55],[9.5,-1.7],[9.75,-1.4],[9.9,-1.75],[8.25,-1.25],[8.1,-1.6],[7.9,-1.5],[7.65,-1.15],[7.3,-1.5],[7.05,-1.05],
	[5.4,0.35],[5.5,-0.5],[5.6,0.05],[5.7,0.75],[5.3,-0.3],[5.2,0.2],[5.1,-0.5],[5.0,0.4],[4.9,0.75],[5.8,-0.85],
	[8.7,1.7],[8.9,1.5],[9.1,1.55],[8.35,1.5],[7.95,1.3],[7.6,1.45],[7.2,1.7],[6.9,1.45],[6.6,1.0],[9.3,1.25],
	[6.2,0.2],[6.3,0.85],[6.4,0.3],[6.5,-0.15],[6.6,0.75],[6.7,0.1],[6.8,0.8],[6.9,0.35],[7.0,0.2],[7.1,0.75],
	[7.2,-0.1],[7.3,0.55],[7.4,0.9],[7.5,0.2],[7.6,0.65],[7.7,0.0],[7.8,0.75],[7.9,0.15],[8.0,0.35],[8.1,0.85],
	[8.2,0.5],[8.3,0.05],[8.4,0.6],[8.5,0.3],[8.6,0.7],[8.7,0.1],[8.8,0.8],[8.9,0.3],[9.0,0.45],[9.1,0.75],
	[9.2,0.1],[9.3,1.0],[9.4,0.3],[9.5,0.7],[9.6,0.4],[6.95,0.55],[7.25,0.8],[7.55,0.5],[7.85,0.6],[8.15,0.4],
	[8.45,0.7],[8.75,0.5],[9.05,0.6],[7.15,-0.35],[7.45,-0.5],[7.75,-0.25],[8.05,-0.15],[8.35,-0.45],[8.65,-0.4],[8.95,-0.2],
	[9.25,-0.55],[9.55,-0.3],[7.05,-0.95],[7.55,-0.75],[8.0,-0.9],[8.5,-0.85],[9.0,-1.1],[9.4,-1.0],[6.45,-0.55],[6.75,-0.5],
	[6.5,1.45],[7.05,1.25],[7.45,1.5],[7.85,1.35],[8.3,1.3],[8.8,1.5],[9.2,1.35],[9.6,1.3],[5.6,0.55],[5.9,-0.05],
	[6.0,-0.6],[6.1,-0.2],[6.2,-1.1],[6.3,-0.5],[6.4,-0.85],[6.5,-0.2],[6.6,-1.0],[6.7,-0.65],[6.8,-0.25],[6.9,-0.85],
	[7.0,-0.4],[7.1,-1.05],[7.2,-0.6],[7.3,-0.95],[7.4,-0.3],[7.5,-1.15],[7.6,-0.55],[7.7,-0.15],[7.8,-0.8],[7.9,-1.1],
	[8.0,-0.55],[8.1,-1.2],[8.2,-0.3],[8.3,-1.0],[8.4,-1.35],[8.5,-0.7],[8.6,-1.05],[8.7,-1.3],[8.8,-0.6],[8.9,-0.85],
	[9.0,-1.45],[9.1,-0.55],[9.2,-1.05],[9.3,-0.7],[9.4,-1.3],[9.5,-0.65],[9.6,-1.1],[9.8,-1.25],[7.35,-1.7],[7.75,-1.45],
	[5.2,-0.55],[5.4,-0.7],[5.6,-0.35],[5.8,-0.6],[4.8,-0.5],[5.0,-0.25],[6.3,-1.3],[6.85,-1.55],[8.45,-2.15],[9.0,-2.0]
];

// GWR Petterson - Adaptive kernel
var adaptivePoints = [
	[3.72,3.10],[3.89,-0.21],[4.35,1.01],[4.35,0.39],[4.38,-0.50],[4.58,2.64],[4.71,1.31],[5.08,1.78],[4.78,-0.53],[5.71,3.38],
	[6.15,3.80],[6.02,2.91],[6.71,3.05],[7.07,2.71],[6.90,2.48],[7.02,2.44],[7.15,2.28],[7.46,2.46],[7.63,2.96],[7.66,3.25],
	[8.21,2.78],[8.23,2.51],[8.57,2.41],[9.01,2.56],[9.65,2.24],[9.88,1.84],[10.14,2.53],[10.76,2.41],[11.28,2.46],[11.08,1.98],
	[11.78,1.58],[10.43,1.21],[11.01,1.16],[11.10,0.82],[10.56,0.82],[10.95,0.37],[10.84,-0.23],[10.98,-1.10],[10.73,-1.54],[11.01,-2.0],
	[10.18,-2.10],[10.40,-2.54],[9.62,-2.90],[9.49,-2.44],[9.21,-2.30],[8.96,-2.27],[9.65,-2.0],[8.62,-2.07],[6.48,-2.34],[6.93,-2.02],
	[7.22,-2.14],[7.0,-1.67],[6.04,-1.47],[6.18,-1.52],[6.57,-1.47],[5.30,-1.02],[4.91,-0.68],
	[4.7,0.1],[4.75,-0.3],[4.8,0.55],[4.85,-0.05],[4.9,0.9],[4.95,-0.45],[5.0,0.35],[5.05,1.05],[5.1,-0.2],[5.15,0.6],
	[5.2,1.15],[5.25,-0.6],[5.3,0.2],[5.35,-0.95],[5.4,0.75],[5.45,0.0],[5.5,1.3],[5.55,-0.35],[5.6,0.5],[5.65,-0.8],
	[5.7,1.45],[5.75,0.15],[5.8,-0.55],[5.85,0.9],[5.9,-1.0],[5.95,0.35],[6.0,1.2],[6.05,-0.25],[6.1,0.65],[6.15,-1.3],
	[6.2,1.05],[6.25,0.1],[6.3,-0.6],[6.35,1.55],[6.4,0.45],[6.45,-0.15],[6.5,0.95],[6.55,-1.1],[6.6,0.25],[6.65,1.35],
	[6.7,-0.4],[6.75,0.7],[6.8,-0.9],[6.85,0.15],[6.9,1.6],[6.95,-0.2],[7.0,0.5],[7.05,-1.4],[7.1,0.95],[7.15,0.0],
	[7.2,-0.65],[7.25,1.3],[7.3,0.3],[7.35,-1.05],[7.4,0.7],[7.45,-0.3],[7.5,1.75],[7.55,0.15],[7.6,-0.85],[7.65,0.6],
	[7.7,-0.1],[7.75,1.2],[7.8,-1.5],[7.85,0.4],[7.9,-0.45],[7.95,0.9],[8.0,1.55],[8.05,-0.2],[8.1,0.3],[8.15,-1.2],
	[8.2,0.75],[8.25,-0.7],[8.3,1.35],[8.35,-1.0],[8.4,0.1],[8.45,0.65],[8.5,-1.6],[8.55,1.05],[8.6,-0.35],[8.65,0.4],
	[8.7,1.7],[8.75,-1.3],[8.8,0.0],[8.85,0.85],[8.9,-0.8],[8.95,1.4],[9.0,0.25],[9.05,-1.75],[9.1,0.6],[9.15,-0.4],
	[9.2,1.15],[9.25,-1.1],[9.3,0.35],[9.35,-0.15],[9.4,0.9],[9.45,-1.45],[9.5,0.5],[9.55,-0.6],[9.6,1.2],[9.65,-0.25],
	[9.7,0.1],[9.75,-1.2],[9.8,0.7],[9.85,-0.6],[9.9,0.3],[9.95,-1.6],[10.0,0.85],[10.05,-0.1],[10.1,0.4],[10.15,-0.8],
	[10.25,0.1],[10.3,-0.4],[10.4,0.55],[10.45,-0.9],[10.5,0.2],[10.6,-0.2],[10.7,0.15],[10.8,-0.45],[10.35,-1.15],[10.55,-0.65],
	[6.3,1.0],[6.35,0.9],[6.5,0.5],[6.6,0.7],[6.8,0.4],[6.9,0.75],[7.0,0.1],[7.1,0.45],[7.2,0.2],[7.3,0.75],
	[7.4,0.05],[7.5,0.4],[7.6,0.8],[7.7,0.3],[7.8,0.55],[7.9,0.0],[8.0,0.35],[8.1,-0.5],[8.2,0.15],[8.3,-0.3],
	[8.25,-1.0],[8.3,-0.85],[8.4,-1.1],[8.35,-1.25],[8.2,-1.4],[8.5,-0.9],[8.6,0.6],[8.7,0.3],[8.8,0.9],[8.9,0.45],
	[9.0,1.65],[9.1,1.5],[9.2,1.7],[8.6,1.45],[8.4,1.9],[7.7,2.05],[7.6,2.2],[8.55,2.0],[8.6,-1.9],[8.7,-2.05],
	[8.45,-1.7],[8.9,-1.7],[9.1,-1.4],[7.9,-1.6],[7.5,-1.25],[6.95,-1.1],[9.3,0.9],[9.5,0.2],[6.0,0.55],[5.85,0.2],
	[5.9,0.4],[6.0,-0.2],[6.05,0.85],[6.1,0.1],[6.2,-0.55],[6.25,0.6],[6.3,0.2],[6.35,1.2],[6.4,-0.3],[6.45,0.7],
	[6.5,1.25],[6.55,0.0],[6.6,-0.7],[6.65,0.85],[6.7,0.15],[6.75,1.1],[6.8,-0.35],[6.85,0.55],[6.9,-0.05],[6.95,1.05],
	[7.0,-0.55],[7.05,0.65],[7.1,0.2],[7.15,-0.9],[7.2,0.9],[7.25,-0.15],[7.3,0.5],[7.35,1.15],[7.4,-0.5],[7.45,0.3],
	[7.5,0.95],[7.55,-0.7],[7.6,0.2],[7.65,1.25],[7.7,-0.35],[7.75,0.65],[7.8,-0.85],[7.85,0.95],[7.9,0.25],[7.95,-0.25],
	[8.0,0.8],[8.05,-0.6],[8.1,1.1],[8.15,0.05],[8.2,-0.75],[8.25,0.5],[8.3,-1.15],[8.35,0.25],[8.4,-0.55],[8.45,1.2],
	[8.5,0.1],[8.55,-0.4],[8.6,0.9],[8.65,-0.8],[8.7,0.5],[8.75,1.3],[8.8,-0.3],[8.85,0.4],[8.9,1.05],[8.95,-0.5],
	[9.0,0.6],[9.05,-0.1],[9.1,1.15],[9.15,0.3],[9.2,-0.75],[9.25,0.65],[9.3,1.3],[9.35,-0.3],[9.4,0.45],[9.45,-0.9],
	[9.5,0.95],[9.55,0.1],[9.6,-0.5],[9.65,0.6],[9.7,1.0],[9.75,-0.1],[9.8,0.35],[9.85,-1.0],[9.9,0.75],[9.95,0.0],
	[8.15,-1.05],[8.25,-1.3],[8.3,-0.95],[8.4,-1.45],[8.45,-0.95],[8.5,-1.25],[8.2,-0.9],[8.35,-1.55],[8.6,-1.45],[8.75,-1.7],
	[8.85,-1.35],[9.0,-1.55],[9.2,-1.6],[9.35,-1.8],[9.6,-1.4],[7.95,-1.35],[7.7,-1.15],[7.4,-1.3],[7.1,-1.6],[6.8,-1.35],
	[5.4,0.45],[5.5,-0.3],[5.6,0.15],[5.7,0.8],[5.3,-0.25],[5.2,0.4],[5.1,-0.6],[5.0,0.65],[4.9,0.3],[5.8,-0.8],
	[8.8,1.65],[8.95,1.55],[9.15,1.7],[8.3,1.7],[7.9,1.5],[7.4,1.6],[7.1,1.45],[6.8,1.7],[6.5,1.6],[9.4,1.5],
	[6.2,0.3],[6.3,0.7],[6.4,0.1],[6.5,0.75],[6.6,0.35],[6.7,0.9],[6.8,0.2],[6.9,0.45],[7.0,0.85],[7.1,-0.2],
	[7.2,0.55],[7.3,0.1],[7.4,0.85],[7.5,0.15],[7.6,0.6],[7.7,0.05],[7.8,0.8],[7.9,0.45],[8.0,-0.05],[8.1,0.55],
	[8.2,0.35],[8.3,0.6],[8.4,0.35],[8.5,0.75],[8.6,0.1],[8.7,0.65],[8.8,0.25],[8.9,0.7],[9.0,0.0],[9.1,0.4],
	[9.2,0.85],[9.3,0.15],[9.4,0.65],[9.5,0.35],[6.95,0.35],[7.25,0.7],[7.55,0.55],[7.85,0.2],[8.15,0.6],[8.45,0.35],
	[8.75,0.05],[9.05,0.35],[7.15,-0.45],[7.45,-0.1],[7.75,-0.55],[8.05,-0.35],[8.35,-0.65],[8.65,-0.15],[8.95,-0.3],[9.25,-0.4],
	[7.95,-1.0],[8.6,-0.9],[8.05,-0.65],[8.7,-1.2],[8.0,-1.45],[8.55,-0.7],[7.85,-0.8],[8.75,-0.95],[8.65,-1.3],[8.1,-1.2],
	[6.45,-0.45],[6.75,-0.6],[6.6,1.2],[7.0,1.3],[7.45,1.15],[7.9,1.2],[8.35,1.0],[8.8,1.15],[5.6,0.75],[5.9,-0.15],
	[6.0,-0.75],[6.1,-0.3],[6.2,-0.95],[6.3,-0.4],[6.4,-0.8],[6.5,-0.25],[6.6,-1.0],[6.7,-0.55],[6.8,-0.2],[6.9,-0.85],
	[7.0,-0.35],[7.1,-0.95],[7.2,-0.3],[7.3,-0.75],[7.4,-1.05],[7.5,-0.45],[7.6,-1.1],[7.7,-0.65],[7.8,-0.3],[7.9,-0.95],
	[8.0,-0.5],[8.1,-1.4],[8.2,-0.45],[8.3,-0.65],[8.4,-1.7],[8.5,-0.6],[8.6,-1.15],[8.7,-0.5],[8.8,-0.95],[8.9,-1.25],
	[9.0,-0.6],[9.1,-1.0],[9.2,-1.3],[9.3,-0.6],[9.4,-1.2],[9.5,-0.75],[9.6,-1.05],[9.8,-1.35],[7.25,-1.45],[7.65,-1.55],
	[5.2,-0.45],[5.4,-0.7],[5.6,-0.2],[5.8,-0.35],[4.8,-0.6],[5.0,-0.15],[6.35,-1.25],[6.75,-1.6],[8.3,-2.0],[8.95,-2.0]
];

var panelData = [lmmPoints, band1000Points, band500Points, fixedPoints, adaptivePoints];

var ResidualChart = {
	fontFamily : "'Liberation Sans Narrow', 'DejaVu Sans Condensed', 'Roboto Condensed', sans-serif",
	textColor : '#1a1a1a',
	boxColor : '#5a5a5a',
	// pixel boxes of the five panels
	boxes : [
		{ left : 55, top : 10, width : 421, height : 289 },
		{ left : 604, top : 10, width : 420, height : 289 },
		{ left : 1154, top : 10, width : 421, height : 289 },
		{ left : 337, top : 521, width : 437, height : 290 },
		{ left : 904, top : 521, width : 420, height : 290 }
	],

	init : function() {
		var chart = echarts.init(document.getElementById('chart'));
		chart.setOption(ResidualChart.buildOption(), true);
	},

	buildOption : function() {
		var grids = [], xAxes = [], yAxes = [], series = [], titles = [];
		for (var i = 0; i < panelData.length; i++) {
			var b = ResidualChart.boxes[i];
			grids.push({
				left : b.left,
				top : b.top,
				width : b.width,
				height : b.height,
				show : true,
				borderColor : ResidualChart.boxColor,
				borderWidth : 1.5,
				backgroundColor : 'transparent'
			});
			xAxes.push({
				type : 'value',
				gridIndex : i,
				min : 2.5,
				max : 16.5,
				axisLine : { show : false, onZero : false },
				splitLine : { show : false },
				axisTick : {
					show : true,
					customValues : xTicks,
					length : 12,
					lineStyle : { color : ResidualChart.boxColor, width : 1.5 }
				},
				axisLabel : {
					customValues : xTicks,
					margin : 22,
					fontSize : 28,
					color : ResidualChart.textColor,
					fontFamily : ResidualChart.fontFamily
				}
			});
			yAxes.push({
				type : 'value',
				gridIndex : i,
				min : -4.32,
				max : 4.32,
				axisLine : { show : false, onZero : false },
				splitLine : { show : false },
				axisTick : {
					show : true,
					customValues : yTicks,
					length : 7,
					lineStyle : { color : ResidualChart.boxColor, width : 1.5 }
				},
				axisLabel : {
					customValues : yTicks,
					rotate : 90,
					margin : 12,
					fontSize : 27,
					color : ResidualChart.textColor,
					fontFamily : ResidualChart.fontFamily
				}
			});
			series.push({
				name : panelTitles[i],
				type : 'scatter',
				xAxisIndex : i,
				yAxisIndex : i,
				symbol : 'circle',
				symbolSize : 9.5,
				silent : true,
				large : false,
				itemStyle : {
					color : 'rgba(0,0,0,0)',
					borderColor : 'rgba(0,0,0,0.74)',
					borderWidth : 2.2
				},
				markLine : {
					silent : true,
					symbol : [ 'none', 'none' ],
					label : { show : false },
					lineStyle : { color : '#444', width : 1.6, type : 'solid' },
					data : [ { yAxis : 0 } ]
				},
				data : panelData[i]
			});
			titles.push({
				text : panelTitles[i],
				left : b.left + b.width / 2,
				top : b.top + b.height + (i < 3 ? 80 : 81),
				textAlign : 'center',
				textStyle : {
					fontSize : 29,
					fontWeight : 'normal',
					color : ResidualChart.textColor,
					fontFamily : ResidualChart.fontFamily
				}
			});
		}
		return {
			backgroundColor : '#fff',
			animation : false,
			title : titles,
			grid : grids,
			xAxis : xAxes,
			yAxis : yAxes,
			series : series
		};
	}
};

ResidualChart.init();
</script>
</body>
</html>
